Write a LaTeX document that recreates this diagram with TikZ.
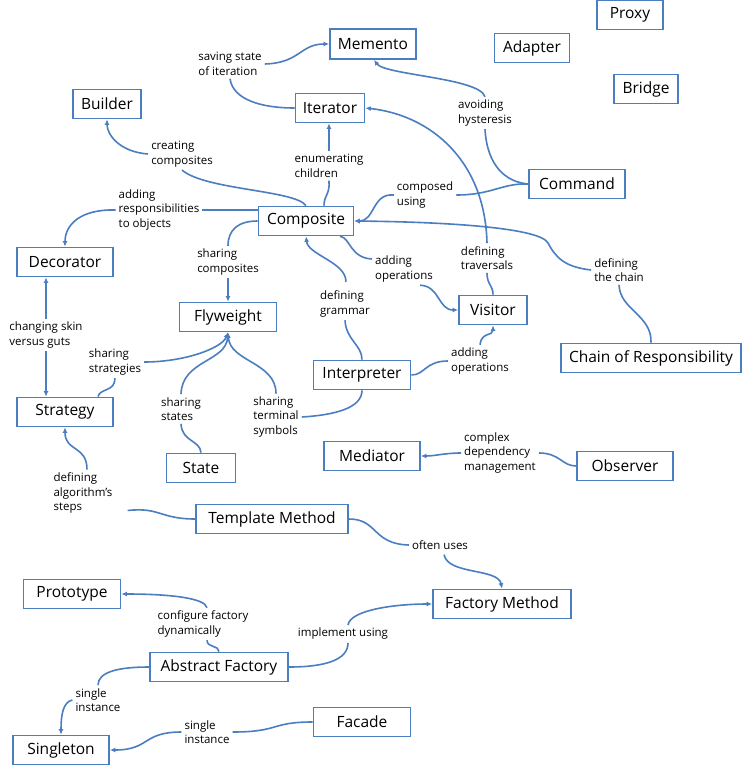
\documentclass[tikz,border=0pt]{standalone}
\usepackage{fontspec}
\setmainfont{Open Sans}
\usetikzlibrary{arrows.meta}
\definecolor{ln}{RGB}{74,126,192}
\begin{document}
\begin{tikzpicture}[x=1pt,y=-1pt,
  box/.style={draw=ln,line width=1.8pt,inner sep=0pt,minimum height=29pt,
    font=\fontsize{15.5}{18}\selectfont,fill=white},
  lbl/.style={inner sep=3pt,align=left,font=\fontsize{11.5}{14.5}\selectfont},
  conn/.style={draw=ln,line width=1.6pt},
  arr/.style={conn,-{Latex[length=5.5pt,width=5pt]}},
  dbl/.style={conn,{Latex[length=5.5pt,width=5pt]}-{Latex[length=5.5pt,width=5pt]}}]
\useasboundingbox (0,0) rectangle (743,770);
\fill[white] (0,0) rectangle (743,770);
% boxes
\node[box,minimum width=66pt] (proxy) at (630,15) {Proxy};
\node[box,minimum width=75pt] (adapter) at (532,48) {Adapter};
\node[box,minimum width=64pt] (bridge) at (646,89) {Bridge};
\node[box,minimum width=86pt,minimum height=30pt] (memento) at (373,44) {Memento};
\node[box,minimum width=69pt] (iterator) at (330,108) {Iterator};
\node[box,minimum width=68pt] (builder) at (107,104) {Builder};
\node[box,minimum width=96pt] (command) at (577,184) {Command};
\node[box,minimum width=95pt] (composite) at (306,221) {Composite};
\node[box,minimum width=96pt] (decorator) at (65,262) {Decorator};
\node[box,minimum width=97pt] (flyweight) at (228,317) {Flyweight};
\node[box,minimum width=96pt] (strategy) at (65,412) {Strategy};
\node[box,minimum width=69pt] (state) at (201,468) {State};
\node[box,minimum width=97pt] (interp) at (362,375) {Interpreter};
\node[box,minimum width=68pt] (visitor) at (493,310) {Visitor};
\node[box,minimum width=180pt] (chain) at (651,358) {Chain of Responsibility};
\node[box,minimum width=96pt] (mediator) at (372,456) {Mediator};
\node[box,minimum width=96pt] (observer) at (625,466) {Observer};
\node[box,minimum width=152pt] (template) at (272,519) {Template Method};
\node[box,minimum width=97pt] (prototype) at (72,594) {Prototype};
\node[box,minimum width=138pt] (factory) at (502,604) {Factory Method};
\node[box,minimum width=138pt] (abstract) at (219,667) {Abstract Factory};
\node[box,minimum width=96pt] (singleton) at (61,750) {Singleton};
\node[box,minimum width=97pt] (facade) at (362,722) {Facade};
% labels
\node[lbl] (lSave) at (230,64) {saving state\\of iteration};
\node[lbl] (lEnum) at (329,166) {enumerating\\children};
\node[lbl] (lCreate) at (182,154) {creating\\composites};
\node[lbl] (lAddResp) at (159,210) {adding\\responsibilities\\to objects};
\node[lbl] (lComposed) at (425,195) {composed\\using};
\node[lbl] (lAvoid) at (485,113) {avoiding\\hysteresis};
\node[lbl] (lTrav) at (487,258) {defining\\traversals};
\node[lbl] (lChain) at (619,270) {defining\\the chain};
\node[lbl] (lAddOp1) at (404,269) {adding\\operations};
\node[lbl] (lGrammar) at (345,304) {defining\\grammar};
\node[lbl] (lAddOp2) at (480,361) {adding\\operations};
\node[lbl] (lShComp) at (228,262) {sharing\\composites};
\node[lbl] (lShStrat) at (115,362) {sharing\\strategies};
\node[lbl] (lShStates) at (181,409) {sharing\\states};
\node[lbl] (lShTerm) at (276,417) {sharing\\terminal\\symbols};
\node[lbl] (lSkin) at (46,335) {changing skin\\versus guts};
\node[lbl] (lAlgo) at (83,493) {defining\\algorithm’s\\steps};
\node[lbl] (lOften) at (440,545) {often uses};
\node[lbl] (lImpl) at (343,634) {implement using};
\node[lbl] (lConfig) at (203,624) {configure factory\\dynamically};
\node[lbl] (lSingleA) at (98,700) {single\\instance};
\node[lbl] (lSingleB) at (207,732) {single\\instance};
\node[lbl] (lComplex) at (500,453) {complex\\dependency\\management};
% connectors
\draw[conn] (iterator.west) .. controls (262,108) and (233,100) .. (lSave.south);
\draw[arr] (lSave.east) .. controls (300,63) and (300,44) .. (memento.west);
\draw[conn] ([shift={(18,0)}]composite.north) .. controls (324,195) and (330,195) .. (lEnum.south);
\draw[arr] (lEnum.north) -- (lEnum.north |- iterator.south);
\draw[arr] (lCreate.west) .. controls (120,152) and (107,135) .. (builder.south);
\draw[conn] (composite.north) .. controls (295,190) and (205,190) .. (lCreate.south);
\draw[conn] (lAddResp.east) -- (lAddResp.east -| composite.west);
\draw[arr] (lAddResp.west) .. controls (80,209) and (65,225) .. (decorator.north);
\draw[conn] (command.west) .. controls (502,183) and (492,195) .. (lComposed.east);
\draw[arr] (lComposed.west) .. controls (372,193) and (375,221) .. (composite.east);
\draw[conn] (command.west) .. controls (505,182) and (487,165) .. (lAvoid.south);
\draw[arr] (lAvoid.north) .. controls (480,78) and (385,75) .. ([shift={(1,0)}]memento.south);
\draw[conn] (visitor.north) .. controls (493,285) and (487,285) .. (lTrav.south);
\draw[arr] (lTrav.north) .. controls (485,160) and (430,115) .. (iterator.east);
\draw[arr] (lChain.west) .. controls (565,267) and (556,258) .. (548,243) .. controls (540,228) and (450,222) .. (composite.east);
\draw[conn] (lChain.south) .. controls (620,310) and (652,315) .. (chain.north);
\draw[conn] ([shift={(34,0)}]composite.south) .. controls (350,237) and (350,258) .. ([shift={(0,-10)}]lAddOp1.west);
\draw[arr] ([shift={(16,0)}]lAddOp1.south) .. controls (440,286) and (438,310) .. (visitor.west);
\draw[conn] (interp.north) .. controls (362,345) and (346,340) .. (lGrammar.south);
\draw[arr] ([shift={(1,-6)}]lGrammar.north) .. controls (346,262) and (308,255) .. (composite.south);
\draw[conn] (interp.east) .. controls (425,375) and (425,361) .. (lAddOp2.west);
\draw[arr] (lAddOp2.north) .. controls (481,332) and (493,336) .. (visitor.south);
\draw[conn] (composite.west) .. controls (238,221) and (228,230) .. (lShComp.north);
\draw[arr] (lShComp.south) -- (flyweight.north);
\draw[conn] ([shift={(33,0)}]strategy.north) .. controls (100,388) and (115,392) .. (lShStrat.south);
\draw[arr] (lShStrat.east) .. controls (185,362) and (222,348) .. (flyweight.south);
\draw[conn] (state.north) .. controls (200,440) and (182,442) .. (lShStates.south);
\draw[arr] (lShStates.north) .. controls (182,360) and (226,362) .. (flyweight.south);
\draw[arr] (lShTerm.north) .. controls (276,362) and (230,362) .. (flyweight.south);
\draw[conn] (interp.south) .. controls (362,408) and (335,415) .. (lShTerm.east);
\draw[arr] (lSkin.north) -- (lSkin.north |- decorator.south);
\draw[arr] (lSkin.south) -- (lSkin.south |- strategy.north);
\draw[arr] ([shift={(4,0)}]lAlgo.north) .. controls (87,445) and (65,452) .. (strategy.south);
\draw[conn] ([shift={(12,-6)}]lAlgo.south east) .. controls (160,507) and (160,519) .. (template.west);
\draw[conn] (template.east) .. controls (378,519) and (372,544) .. (lOften.west);
\draw[arr] ([shift={(4,2)}]lOften.south) .. controls (448,575) and (498,568) .. (factory.north);
\draw[conn] (abstract.east) .. controls (325,667) and (348,660) .. ([shift={(5,0)}]lImpl.south);
\draw[arr] ([shift={(5,0)}]lImpl.north) .. controls (350,610) and (395,604) .. (factory.west);
\draw[conn] (abstract.north) .. controls (219,645) and (207,648) .. ([shift={(4,0)}]lConfig.south);
\draw[arr] ([shift={(4,0)}]lConfig.north) .. controls (205,598) and (170,594) .. (prototype.east);
\draw[conn] (abstract.west) .. controls (118,667) and (98,672) .. (lSingleA.north);
\draw[arr] (lSingleA.west) .. controls (63,702) and (61,715) .. (singleton.north);
\draw[conn] (facade.west) .. controls (270,722) and (280,732) .. (lSingleB.east);
\draw[arr] (lSingleB.west) .. controls (142,732) and (150,750) .. (singleton.east);
\draw[conn] (observer.west) .. controls (562,466) and (560,453) .. (lComplex.east);
\draw[arr] (lComplex.west) .. controls (445,453) and (435,456) .. (mediator.east);
\end{tikzpicture}
\end{document}
